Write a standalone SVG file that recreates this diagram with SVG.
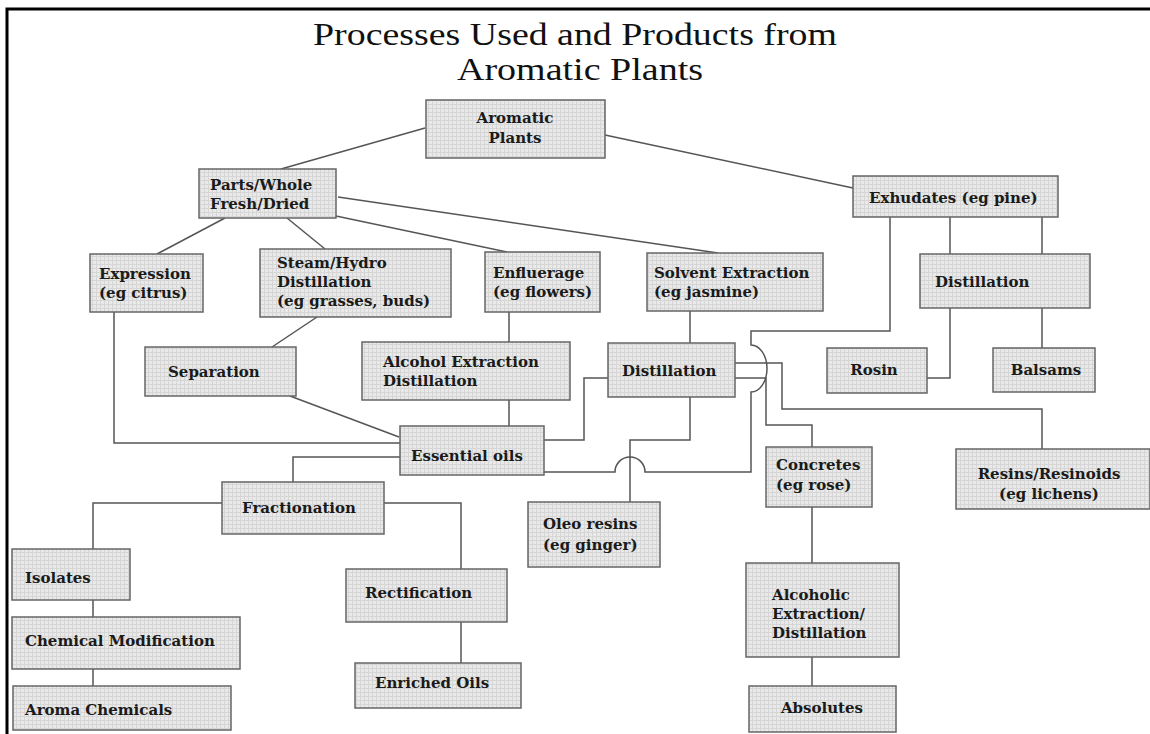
<svg xmlns="http://www.w3.org/2000/svg" width="1150" height="734" viewBox="0 0 1150 734">
<style>
.box{fill:url(#grid);stroke:#666;stroke-width:1.5}
.t{font-family:"DejaVu Serif","Liberation Serif",serif;font-weight:bold;font-size:15px;fill:#1a1a1a}
.c{text-anchor:middle}
.title{font-family:"Liberation Serif","DejaVu Serif",serif;font-size:32px;fill:#111;text-anchor:middle}
.ln{fill:none;stroke:#555;stroke-width:1.5}
</style>
<defs>
<pattern id="grid" width="4" height="4" patternUnits="userSpaceOnUse">
<rect width="4" height="4" fill="#e9e9e9"/>
<path d="M0 0.5H4M0.5 0V4" stroke="#d6d6d6" stroke-width="1"/>
</pattern>
</defs>
<rect width="1150" height="734" fill="#fff"/>
<path d="M7 734V9H1150" fill="none" stroke="#000" stroke-width="3"/>
<text class="title" x="575" y="45" textLength="524" lengthAdjust="spacingAndGlyphs">Processes Used and Products from</text>
<text class="title" x="580" y="80" textLength="246" lengthAdjust="spacingAndGlyphs">Aromatic Plants</text>

<g id="connectors" class="ln">
<path d="M425 128L281 169"/>
<path d="M605 135L853 188"/>
<path d="M225 218L157 254"/>
<path d="M287 218L325 249"/>
<path d="M336 216L507 252"/>
<path d="M338 197L718 253"/>
<path d="M114 312V443H400"/>
<path d="M317 317L272 347"/>
<path d="M290 396L399 437"/>
<path d="M509 312V342"/>
<path d="M509 400V426"/>
<path d="M690 311V343"/>
<path d="M544 440H584V378H608"/>
<path d="M690 397V440H630V502"/>
<path d="M890 217V331H751V345A16 23.5 0 0 1 751 392V472H645A15 15 0 0 0 615 472H544"/>
<path d="M735 363H782V409H1042V449"/>
<path d="M735 378H766V425H812V447"/>
<path d="M400 457H293V482"/>
<path d="M222 503H93V549"/>
<path d="M384 503H461V569"/>
<path d="M93 600V617"/>
<path d="M93 669V686"/>
<path d="M461 622V663"/>
<path d="M812 507V563"/>
<path d="M812 657V686"/>
<path d="M950 217V254"/>
<path d="M1042 217V254"/>
<path d="M950 308V378H927"/>
<path d="M1042 308V348"/>
</g>

<g id="aromatic-plants"><rect class="box" x="426" y="100" width="179" height="58"/><text class="t c" x="515" y="123">Aromatic</text><text class="t c" x="515" y="143">Plants</text></g>
<g id="parts-whole"><rect class="box" x="199" y="169" width="137" height="49"/><text class="t" x="210" y="190">Parts/Whole</text><text class="t" x="210" y="209">Fresh/Dried</text></g>
<g id="exhudates"><rect class="box" x="853" y="176" width="205" height="41"/><text class="t" x="869" y="203">Exhudates (eg pine)</text></g>
<g id="expression"><rect class="box" x="90" y="254" width="113" height="58"/><text class="t" x="99" y="279">Expression</text><text class="t" x="99" y="298">(eg citrus)</text></g>
<g id="steam-hydro"><rect class="box" x="260" y="249" width="191" height="68"/><text class="t" x="277" y="268">Steam/Hydro</text><text class="t" x="277" y="287">Distillation</text><text class="t" x="277" y="306">(eg grasses, buds)</text></g>
<g id="enfluerage"><rect class="box" x="485" y="252" width="115" height="60"/><text class="t" x="493" y="278">Enfluerage</text><text class="t" x="493" y="297">(eg flowers)</text></g>
<g id="solvent-extraction"><rect class="box" x="647" y="253" width="176" height="58"/><text class="t" x="654" y="278">Solvent Extraction</text><text class="t" x="654" y="297">(eg jasmine)</text></g>
<g id="distillation-exhudates"><rect class="box" x="920" y="254" width="170" height="54"/><text class="t" x="935" y="287">Distillation</text></g>
<g id="separation"><rect class="box" x="145" y="347" width="151" height="49"/><text class="t" x="168" y="377">Separation</text></g>
<g id="alcohol-extraction"><rect class="box" x="362" y="342" width="208" height="58"/><text class="t" x="383" y="367">Alcohol Extraction</text><text class="t" x="383" y="386">Distillation</text></g>
<g id="distillation-solvent"><rect class="box" x="608" y="343" width="127" height="54"/><text class="t" x="622" y="376">Distillation</text></g>
<g id="rosin"><rect class="box" x="827" y="348" width="100" height="45"/><text class="t c" x="874" y="375">Rosin</text></g>
<g id="balsams"><rect class="box" x="993" y="348" width="102" height="44"/><text class="t c" x="1046" y="375">Balsams</text></g>
<g id="essential-oils"><rect class="box" x="400" y="426" width="144" height="49"/><text class="t" x="411" y="461">Essential oils</text></g>
<g id="concretes"><rect class="box" x="766" y="447" width="106" height="60"/><text class="t" x="776" y="470">Concretes</text><text class="t" x="776" y="490">(eg rose)</text></g>
<g id="resins-resinoids"><rect class="box" x="956" y="449" width="194" height="60"/><text class="t c" x="1049" y="479">Resins/Resinoids</text><text class="t c" x="1049" y="499">(eg lichens)</text></g>
<g id="fractionation"><rect class="box" x="222" y="482" width="162" height="52"/><text class="t c" x="299" y="513">Fractionation</text></g>
<g id="oleo-resins"><rect class="box" x="528" y="502" width="132" height="65"/><text class="t" x="543" y="529">Oleo resins</text><text class="t" x="543" y="550">(eg ginger)</text></g>
<g id="isolates"><rect class="box" x="12" y="549" width="118" height="51"/><text class="t" x="25" y="583">Isolates</text></g>
<g id="rectification"><rect class="box" x="346" y="569" width="161" height="53"/><text class="t" x="365" y="598">Rectification</text></g>
<g id="chemical-modification"><rect class="box" x="12" y="617" width="228" height="52"/><text class="t" x="25" y="646">Chemical Modification</text></g>
<g id="alcoholic-extraction"><rect class="box" x="746" y="563" width="153" height="94"/><text class="t" x="772" y="600">Alcoholic</text><text class="t" x="772" y="619">Extraction/</text><text class="t" x="772" y="638">Distillation</text></g>
<g id="enriched-oils"><rect class="box" x="355" y="663" width="166" height="45"/><text class="t" x="375" y="688">Enriched Oils</text></g>
<g id="aroma-chemicals"><rect class="box" x="13" y="686" width="218" height="44"/><text class="t" x="25" y="715">Aroma Chemicals</text></g>
<g id="absolutes"><rect class="box" x="749" y="686" width="147" height="46"/><text class="t c" x="822" y="713">Absolutes</text></g>
</svg>
